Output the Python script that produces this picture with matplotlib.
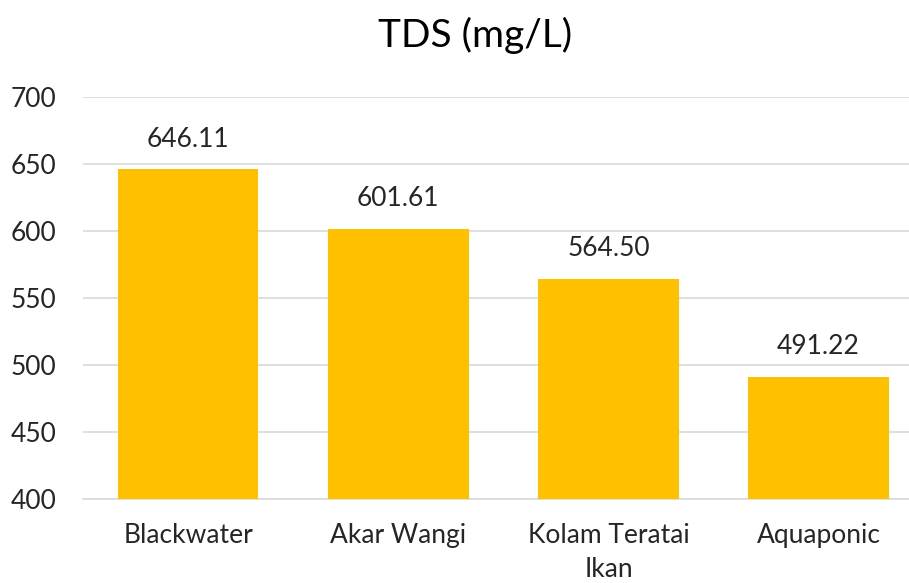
import matplotlib
matplotlib.use("Agg")
import matplotlib.pyplot as plt

# data
categories = ["Blackwater", "Akar Wangi", "Kolam Teratai\nIkan", "Aquaponic"]
tds_values = [646.11, 601.61, 564.50, 491.22]
y_ticks = [400, 450, 500, 550, 600, 650, 700]

plt.rcParams['font.family'] = ['Lato', 'DejaVu Sans']

fig = plt.figure(figsize=(9.09, 5.83), dpi=100)
ax = fig.add_axes([83 / 909, 1 - 499 / 583, 1 - 83 / 909, (499 - 97) / 583])

x = list(range(len(categories)))
bars = ax.bar(x, tds_values, width=0.67, color="#FFC000", zorder=3)

# label di atas batang
for b, v in zip(bars, tds_values):
    ax.text(b.get_x() + b.get_width() / 2, v + 13, f"{v:.2f}",
            ha="center", va="bottom", fontsize=19, color="#262626")

ax.set_ylim(400, 700)
ax.set_xlim(-0.5, 3.43)
ax.set_yticks(y_ticks)
ax.set_xticks(x)
ax.set_xticklabels(categories, fontsize=19, color="#262626", linespacing=1.45)
ax.tick_params(axis="y", labelsize=19, labelcolor="#262626", length=0, pad=19)
ax.tick_params(axis="x", length=0, pad=17)

ax.yaxis.grid(True, color="#D9D9D9", linewidth=1.2, zorder=0)
for s in ["top", "right", "left"]:
    ax.spines[s].set_visible(False)
ax.spines["bottom"].set_color("#D9D9D9")
ax.spines["bottom"].set_linewidth(1.2)

fig.text(0.523, 1 - 35 / 583, "TDS (mg/L)", ha="center", va="center",
         fontsize=28, color="#000000")

fig.savefig("out.png", dpi=100)
